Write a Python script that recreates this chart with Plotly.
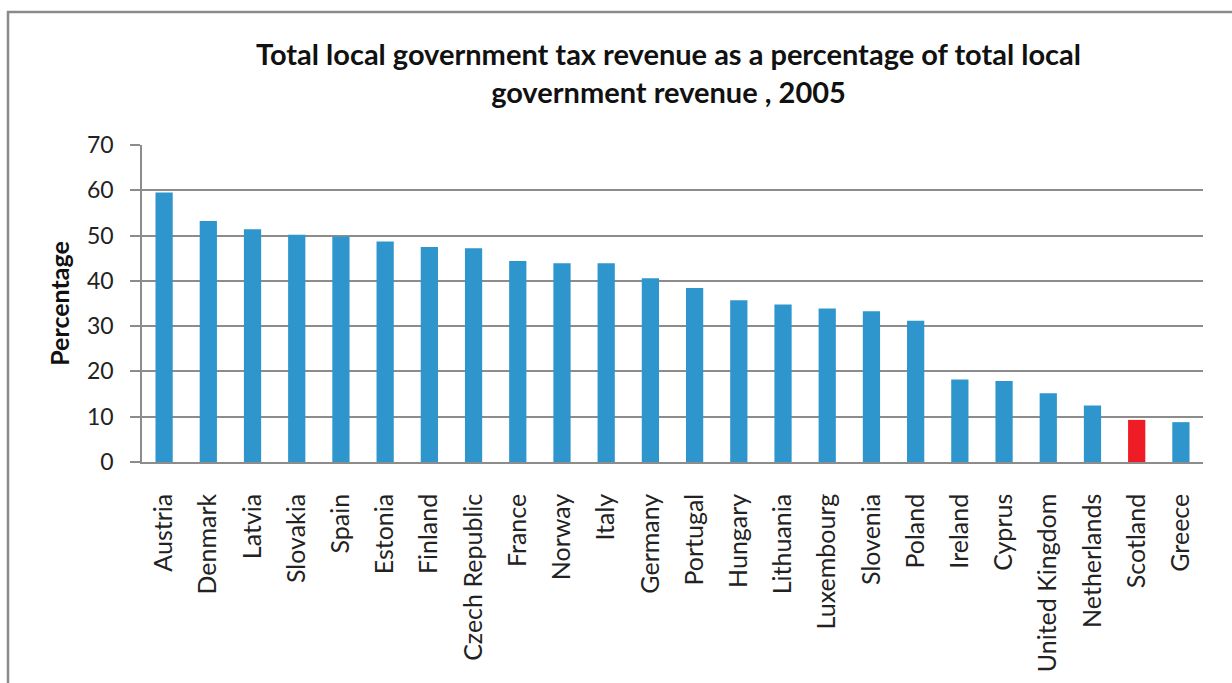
import plotly.graph_objects as go

countries = ["Austria", "Denmark", "Latvia", "Slovakia", "Spain", "Estonia", "Finland",
             "Czech Republic", "France", "Norway", "Italy", "Germany", "Portugal", "Hungary",
             "Lithuania", "Luxembourg", "Slovenia", "Poland", "Ireland", "Cyprus",
             "United Kingdom", "Netherlands", "Scotland", "Greece"]
values = [59.5, 53.2, 51.4, 50.2, 49.8, 48.7, 47.5, 47.2, 44.4, 43.9, 43.9, 40.6, 38.4,
          35.7, 34.8, 33.9, 33.3, 31.2, 18.2, 17.9, 15.2, 12.5, 9.3, 8.8]
highlight = "Scotland"
y_ticks = [0, 10, 20, 30, 40, 50, 60, 70]

colors = ["#EE1C24" if c == highlight else "#2E96CC" for c in countries]

FONT = "Lato"
PW = 1061.0
PH = 317.0

fig = go.Figure(go.Bar(x=countries, y=values, marker_color=colors,
                       marker_line_width=0, width=0.39))

fig.update_layout(
    width=1232, height=683,
    margin=dict(l=142, r=29, t=145, b=221),
    paper_bgcolor="white", plot_bgcolor="white",
    showlegend=False,
    font=dict(family=FONT, color="#222"),
    annotations=[
        dict(text="<b>Total local government tax revenue as a percentage of total local<br>government revenue , 2005</b>",
             xref="paper", yref="paper", x=(668 - 142) / PW, y=1.0, yshift=111,
             xanchor="center", yanchor="top",
             showarrow=False, font=dict(size=29, family=FONT, color="#111"), align="center"),
    ],
    shapes=[dict(type="rect", xref="paper", yref="paper",
                 x0=-134 / PW, x1=(1240 - 142) / PW, y0=-300 / PH, y1=1 + 133 / PH,
                 line=dict(color="#8a8a8a", width=2.5), layer="below")],
)

fig.update_yaxes(range=[0, 70], tickvals=y_ticks, showgrid=True, gridcolor="#8c8c8c", gridwidth=1.5,
                 showline=True, linecolor="#8c8c8c", linewidth=1.5, ticks="outside", ticklen=10,
                 tickcolor="#8c8c8c", tickwidth=1.5, ticklabelstandoff=12,
                 tickfont=dict(size=23, family=FONT, color="#222"),
                 title=dict(text="<b>Percentage</b>", font=dict(size=25, family=FONT, color="#111"), standoff=10),
                 zeroline=False, fixedrange=True)
fig.update_xaxes(showline=True, linecolor="#8c8c8c", linewidth=1.5, ticks="", tickangle=-90,
                 ticklabelstandoff=20,
                 tickfont=dict(size=25, family=FONT, color="#222"), fixedrange=True)

fig.write_html("out.html")
